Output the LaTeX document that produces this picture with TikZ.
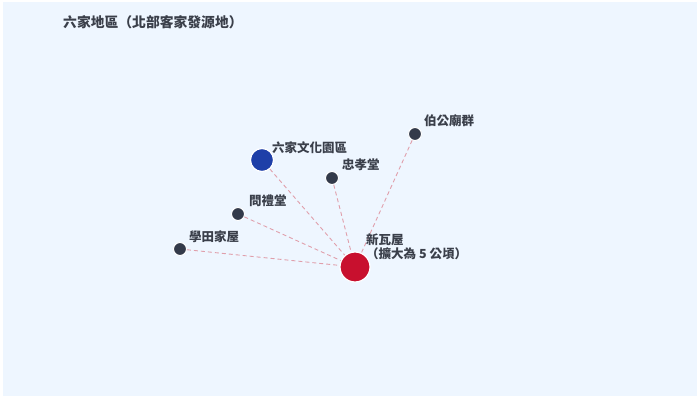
\documentclass[tikz,border=0pt]{standalone}
\usepackage{fontspec}
\setmainfont{Noto Sans CJK TC}
\definecolor{bgc}{HTML}{EEF6FF}
\definecolor{txt}{HTML}{3A3F4A}
\definecolor{dotc}{HTML}{333A4A}
\definecolor{bluec}{HTML}{1E3FA8}
\definecolor{redc}{HTML}{C8102E}
\definecolor{linkc}{HTML}{E09FAB}
\tikzset{
  x=1pt, y=-1pt,
  site/.style={circle, draw=white, line width=1pt, fill=dotc, minimum size=13pt, inner sep=0pt},
  hub/.style={circle, draw=white, line width=1.2pt, fill=redc, minimum size=30pt, inner sep=0pt},
  park/.style={circle, draw=white, line width=1.2pt, fill=bluec, minimum size=23pt, inner sep=0pt},
  lbl/.style={anchor=west, text=txt, font=\fontsize{12.5}{13.5}\selectfont\bfseries, inner sep=0pt, align=left},
  link/.style={draw=linkc, dash pattern=on 4pt off 3pt, line width=0.9pt}
}
\begin{document}
\begin{tikzpicture}
\useasboundingbox (0,0) rectangle (700,398);
\fill[white] (0,0) rectangle (700,398);
\fill[bgc] (3,2) rectangle (697,396);
\node[lbl, font=\fontsize{13.8}{15}\selectfont\bfseries] (title) at (63,22) {六家地區（北部客家發源地）};

\coordinate (hubc) at (355,267);
\node[site] (bogong) at (415,134) {};
\node[park] (liujia) at (262,160) {};
\node[site] (zhongxiao) at (332,178) {};
\node[site] (wenli) at (238,214) {};
\node[site] (xuetian) at (180,249) {};

\draw[link] (bogong) -- (hubc);
\draw[link] (liujia) -- (hubc);
\draw[link] (zhongxiao) -- (hubc);
\draw[link] (wenli) -- (hubc);
\draw[link] (xuetian) -- (hubc);

\node[hub] (xinwa) at (hubc) {};

\node[lbl] (l1) at (424,121) {伯公廟群};
\node[lbl] (l2) at (272,148) {六家文化園區};
\node[lbl] (l3) at (342,165) {忠孝堂};
\node[lbl] (l4) at (249,201) {問禮堂};
\node[lbl] (l5) at (189,237) {學田家屋};
\node[lbl] (l6) at (366,240) {新瓦屋};
\node[lbl] (l7) at (366,254) {（擴大為 5 公頃）};
\end{tikzpicture}
\end{document}
